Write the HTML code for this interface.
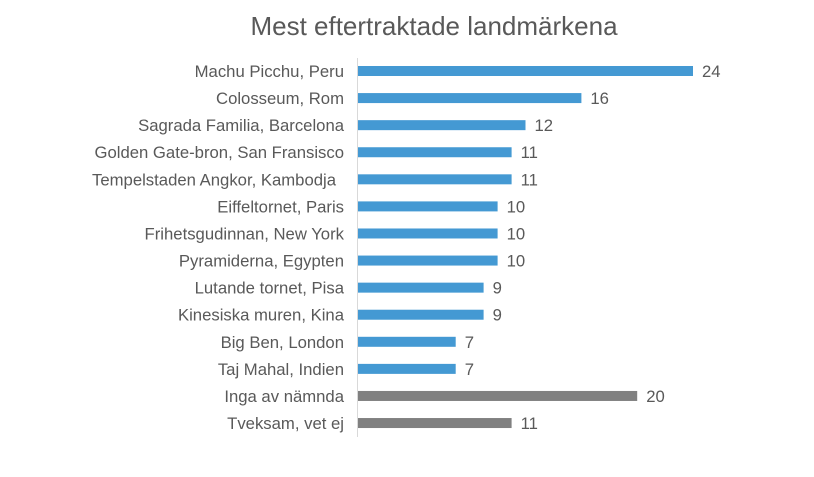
<!DOCTYPE html>
<html><head><meta charset="utf-8"><style>
body{margin:0;background:#fff;}
svg text{font-family:"Liberation Sans",Arial,sans-serif;fill:#595959;}
</style></head><body>
<svg width="814" height="472" xmlns="http://www.w3.org/2000/svg">
<rect width="814" height="472" fill="#fff"/>
<text x="434" y="35" font-size="26" text-anchor="middle">Mest eftertraktade landmärkena</text>
<line x1="357.5" y1="58" x2="357.5" y2="437" stroke="#d9d9d9" stroke-width="1"/>
<g font-size="16.7">
<g text-anchor="end">
<text x="344" y="77">Machu Picchu, Peru</text>
<text x="344" y="104.1">Colosseum, Rom</text>
<text x="344" y="131.2">Sagrada Familia, Barcelona</text>
<text x="344" y="158.2">Golden Gate-bron, San Fransisco</text>
<text x="336" y="185.3">Tempelstaden Angkor, Kambodja</text>
<text x="344" y="212.4">Eiffeltornet, Paris</text>
<text x="344" y="239.5">Frihetsgudinnan, New York</text>
<text x="344" y="266.6">Pyramiderna, Egypten</text>
<text x="344" y="293.6">Lutande tornet, Pisa</text>
<text x="344" y="320.7">Kinesiska muren, Kina</text>
<text x="344" y="347.8">Big Ben, London</text>
<text x="344" y="374.9">Taj Mahal, Indien</text>
<text x="344" y="402">Inga av nämnda</text>
<text x="344" y="429">Tveksam, vet ej</text>
</g>
<g fill="#4499d3">
<rect x="358" y="66" width="335" height="10"/>
<rect x="358" y="93.08" width="223.4" height="10"/>
<rect x="358" y="120.16" width="167.5" height="10"/>
<rect x="358" y="147.24" width="153.6" height="10"/>
<rect x="358" y="174.32" width="153.6" height="10"/>
<rect x="358" y="201.4" width="139.6" height="10"/>
<rect x="358" y="228.48" width="139.6" height="10"/>
<rect x="358" y="255.56" width="139.6" height="10"/>
<rect x="358" y="282.64" width="125.6" height="10"/>
<rect x="358" y="309.72" width="125.6" height="10"/>
<rect x="358" y="336.8" width="97.7" height="10"/>
<rect x="358" y="363.88" width="97.7" height="10"/>
</g>
<g fill="#808080">
<rect x="358" y="390.96" width="279.2" height="10"/>
<rect x="358" y="418.04" width="153.6" height="10"/>
</g>
<text x="702" y="77">24</text>
<text x="590.4" y="104.1">16</text>
<text x="534.5" y="131.2">12</text>
<text x="520.6" y="158.2">11</text>
<text x="520.6" y="185.3">11</text>
<text x="506.6" y="212.4">10</text>
<text x="506.6" y="239.5">10</text>
<text x="506.6" y="266.6">10</text>
<text x="492.6" y="293.6">9</text>
<text x="492.6" y="320.7">9</text>
<text x="464.7" y="347.8">7</text>
<text x="464.7" y="374.9">7</text>
<text x="646.2" y="402">20</text>
<text x="520.6" y="429">11</text>
</g>
</svg>
</body></html>
